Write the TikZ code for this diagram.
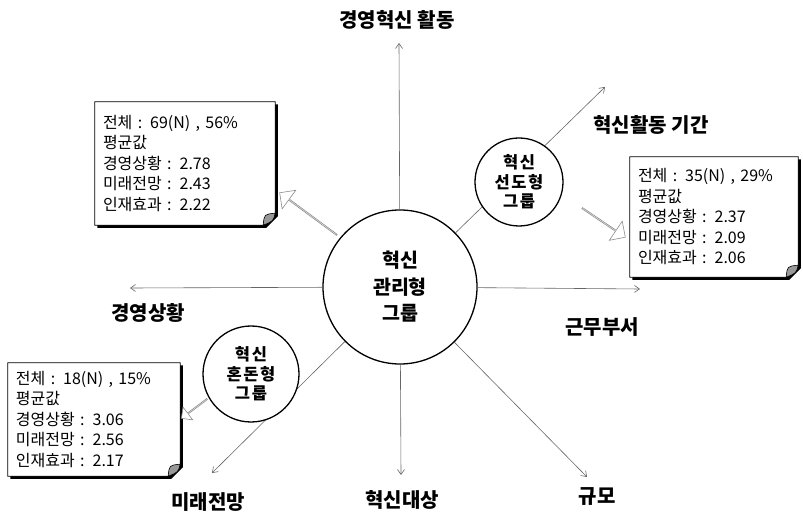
\documentclass[tikz,border=0pt]{standalone}
\usepackage{fontspec}
\setmainfont{Noto Sans CJK KR}
\usetikzlibrary{positioning,shapes.arrows,arrows.meta,backgrounds}

% frame of a memo note: shadow, folded corner
\newcommand{\memoframe}[1]{%
\begin{scope}[on background layer]
\fill[black] ([shift={(2.6pt,-2.6pt)}]#1.north west) -- ([shift={(2.6pt,-2.6pt)}]#1.north east)
  -- ([shift={(2.6pt,9pt)}]#1.south east) -- ([shift={(-9pt,-2.6pt)}]#1.south east)
  -- ([shift={(2.6pt,-2.6pt)}]#1.south west) -- cycle;
\draw[fill=white, line width=0.8pt] (#1.north west) -- (#1.north east) -- ([yshift=12pt]#1.south east)
  .. controls ([shift={(-2pt,4pt)}]#1.south east) .. ([xshift=-12pt]#1.south east) -- (#1.south west) -- cycle;
\draw[fill=black!40, line width=0.6pt] ([yshift=12pt]#1.south east) .. controls ([shift={(-11pt,11pt)}]#1.south east)
  .. ([xshift=-12pt]#1.south east) .. controls ([shift={(-2pt,4pt)}]#1.south east) .. cycle;
\end{scope}}

\begin{document}
\begin{tikzpicture}[x=1pt,y=-1pt,
  axis/.style={draw=black!60, line width=0.6pt, -{Straight Barb[length=5pt,width=7pt]}},
  group/.style={circle, draw, line width=1.3pt, fill=white, align=center, inner sep=0pt,
    font=\fontsize{16.5}{19.5}\selectfont\bfseries\addfontfeature{LetterSpace=10}},
  axlabel/.style={font=\fontsize{20}{24}\selectfont\bfseries},
  memo/.style={align=left, inner xsep=8pt, inner ysep=0pt, font=\fontsize{16}{20.5}\selectfont},
  hint/.style={single arrow, draw=black!45, fill=white, inner sep=0pt, line width=0.6pt,
    single arrow head extend=5pt, minimum width=23pt}]
\useasboundingbox (0,0) rectangle (803,518);

% central group
\node[group, minimum size=154pt, font=\fontsize{19.5}{26.5}\selectfont\bfseries] (core) at (400,287) {혁신\\관리형\\그룹};

% axes
\coordinate (tipN) at (399,43);
\coordinate (tipNE) at (605,87);
\coordinate (tipE) at (640,289);
\coordinate (tipS) at (401,475);
\coordinate (tipSE) at (587,477);
\coordinate (tipSW) at (212,473);
\coordinate (tipW) at (130,288);
\foreach \t in {N,NE,E,S,SE,SW,W}
  \draw[axis] (core) -- (tip\t);

\node[axlabel] (lblN) at (397,20) {경영혁신 활동};
\node[axlabel] (lblNE) at (651,125) {혁신활동 기간};
\node[axlabel] (lblE) at (602,327) {근무부서};
\node[axlabel] (lblS) at (402,500) {혁신대상};
\node[axlabel] (lblSE) at (597,497) {규모};
\node[axlabel] (lblSW) at (208,502) {미래전망};
\node[axlabel] (lblW) at (148,313) {경영상황};

% small groups
\node[group, minimum size=88pt] (lead) at (519,182) {혁신\\선도형\\그룹};
\node[group, minimum size=96pt] (chaos) at (251,374) {혁신\\혼돈형\\그룹};

% notes
\node[memo, text width=164pt, minimum height=123pt] (memoA) at (185,163.5) {전체 : 69(N) , 56\%\\평균값\\경영상황 : 2.78\\미래전망 : 2.43\\인재효과 : 2.22};
\memoframe{memoA}
\node[memo, text width=152pt, minimum height=120pt] (memoB) at (714,217) {전체 : 35(N) , 29\%\\평균값\\경영상황 : 2.37\\미래전망 : 2.09\\인재효과 : 2.06};
\memoframe{memoB}
\node[memo, text width=156pt, minimum height=113pt] (memoC) at (94,419.5) {전체 : 18(N) , 15\%\\평균값\\경영상황 : 3.06\\미래전망 : 2.56\\인재효과 : 2.17};
\memoframe{memoC}

% hollow pointers
\node[hint, minimum height=71pt, rotate=143.6] (hintA) at (308.5,214) {};
\node[hint, minimum height=52pt, rotate=-34] (hintB) at (603.5,222.5) {};
\node[hint, minimum height=32pt, minimum width=16pt, single arrow head extend=3.5pt, rotate=217] (hintC) at (194.5,408.5) {};
\end{tikzpicture}
\end{document}
